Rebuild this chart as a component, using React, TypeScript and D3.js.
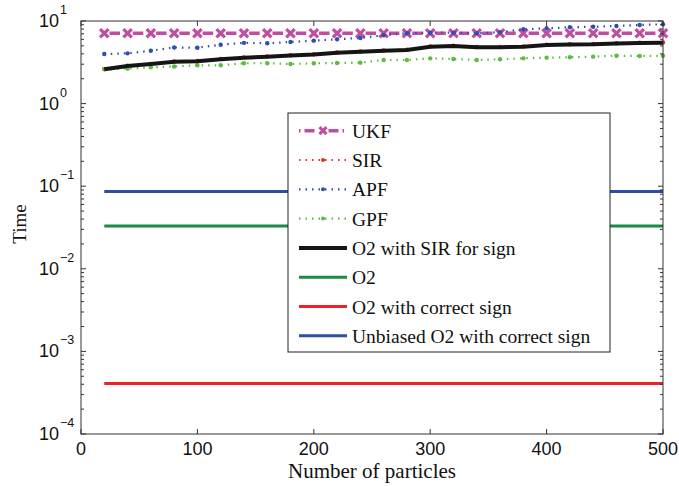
import React, { useRef, useEffect } from "react";
import * as d3 from "d3";

// number of particles
const particles = [20, 40, 60, 80, 100, 120, 140, 160, 180, 200, 220, 240, 260, 280, 300, 320, 340, 360, 380, 400, 420, 440, 460, 480, 500];

const ukf = [7.1, 7.1, 7.1, 7.1, 7.1, 7.1, 7.1, 7.1, 7.1, 7.1, 7.1, 7.1, 7.1, 7.1, 7.1, 7.1, 7.1, 7.1, 7.1, 7.1, 7.1, 7.1, 7.1, 7.1, 7.1];
const sir = [2.62, 2.87, 3.03, 3.23, 3.28, 3.47, 3.63, 3.73, 3.85, 3.96, 4.16, 4.28, 4.4, 4.49, 4.93, 5.02, 4.84, 4.84, 4.93, 5.16, 5.23, 5.26, 5.38, 5.46, 5.5];
const apf = [3.99, 4.06, 4.37, 4.78, 4.75, 5.16, 5.44, 5.37, 5.57, 5.78, 6.01, 6.23, 6.71, 7.1, 7.22, 7.22, 7.1, 7.32, 7.93, 8.16, 8.39, 8.53, 8.7, 8.95, 9.12];
const gpf = [2.6, 2.65, 2.75, 2.81, 2.91, 2.91, 3.08, 3.08, 3.01, 3.08, 3.1, 3.13, 3.37, 3.37, 3.53, 3.47, 3.37, 3.44, 3.53, 3.6, 3.64, 3.7, 3.8, 3.77, 3.8];
const o2Sir = [2.6, 2.85, 3.01, 3.21, 3.25, 3.44, 3.6, 3.7, 3.82, 3.93, 4.13, 4.25, 4.37, 4.45, 4.89, 4.98, 4.8, 4.8, 4.89, 5.12, 5.19, 5.22, 5.34, 5.42, 5.46];
const o2 = [0.033, 0.033, 0.033, 0.033, 0.033, 0.033, 0.033, 0.033, 0.033, 0.033, 0.033, 0.033, 0.033, 0.033, 0.033, 0.033, 0.033, 0.033, 0.033, 0.033, 0.033, 0.033, 0.033, 0.033, 0.033];
const o2Correct = [0.00041, 0.00041, 0.00041, 0.00041, 0.00041, 0.00041, 0.00041, 0.00041, 0.00041, 0.00041, 0.00041, 0.00041, 0.00041, 0.00041, 0.00041, 0.00041, 0.00041, 0.00041, 0.00041, 0.00041, 0.00041, 0.00041, 0.00041, 0.00041, 0.00041];
const unbiased = [0.086, 0.086, 0.086, 0.086, 0.086, 0.086, 0.086, 0.086, 0.086, 0.086, 0.086, 0.086, 0.086, 0.086, 0.086, 0.086, 0.086, 0.086, 0.086, 0.086, 0.086, 0.086, 0.086, 0.086, 0.086];

const xTicks = [0, 100, 200, 300, 400, 500];
const yExponents = [1, 0, -1, -2, -3, -4];

const seriesNames = ["UKF", "SIR", "APF", "GPF", "O2 with SIR for sign", "O2", "O2 with correct sign", "Unbiased O2 with correct sign"];

const SERIF = "'Liberation Serif', 'Times New Roman', serif";
const SANS = "'Liberation Sans', Arial, sans-serif";

const App = () => {
  const svgRef = useRef(null);

  useEffect(() => {
    const width = 679;
    const height = 486;
    const margin = { top: 21, right: 16, bottom: 52, left: 81 };

    const svg = d3.select(svgRef.current).attr("width", width).attr("height", height);
    svg.selectAll("*").remove();

    const x = d3.scaleLinear().domain([0, 500]).range([margin.left, width - margin.right]);
    const y = d3.scaleLog().domain([1e-4, 10]).range([height - margin.bottom, margin.top]);

    const styles = [
      { values: ukf, color: "#bf4da2", width: 3.5, dash: "ukf", marker: "x" },
      { values: sir, color: "#ee2a2a", width: 2.2, dash: "1.5,5", marker: "dot" },
      { values: apf, color: "#2f4fad", width: 2.2, dash: "1.5,5", marker: "dot" },
      { values: gpf, color: "#5dbb3f", width: 2.2, dash: "1.5,5", marker: "dot" },
      { values: o2Sir, color: "#151515", width: 4, dash: null, marker: null },
      { values: o2, color: "#1b8a45", width: 3, dash: null, marker: null },
      { values: o2Correct, color: "#ec2229", width: 3, dash: null, marker: null },
      { values: unbiased, color: "#2e4ea6", width: 3, dash: null, marker: null },
    ];

    const period = x(particles[1]) - x(particles[0]);
    const ukfDash = `${period * 0.45},${period * 0.55}`;
    const ukfOffset = period * 0.775;

    const line = d3
      .line<number>()
      .x((_, i) => x(particles[i]))
      .y((d) => y(d));

    const drawCross = (g, cx, cy, color, s) => {
      g.append("path")
        .attr("d", `M${cx - s},${cy - s}L${cx + s},${cy + s}M${cx - s},${cy + s}L${cx + s},${cy - s}`)
        .attr("stroke", color)
        .attr("stroke-width", 3.2)
        .attr("fill", "none");
    };

    const plot = svg.append("g");
    styles.forEach((s) => {
      const p = plot
        .append("path")
        .attr("d", line(s.values))
        .attr("fill", "none")
        .attr("stroke", s.color)
        .attr("stroke-width", s.width);
      if (s.dash === "ukf") p.attr("stroke-dasharray", ukfDash).attr("stroke-dashoffset", ukfOffset);
      else if (s.dash) p.attr("stroke-dasharray", s.dash);
      if (s.marker === "x") {
        s.values.forEach((v, i) => drawCross(plot, x(particles[i]), y(v), s.color, 4.2));
      } else if (s.marker === "dot") {
        plot
          .selectAll(null)
          .data(s.values)
          .enter()
          .append("circle")
          .attr("cx", (_, i) => x(particles[i]))
          .attr("cy", (d) => y(d))
          .attr("r", 2.2)
          .attr("fill", s.color);
      }
    });

    // axes box
    const [x0, x1] = x.range();
    const [yb, yt] = y.range();
    const axis = svg.append("g").attr("stroke", "#333").attr("stroke-width", 1);
    axis.append("rect").attr("x", x0).attr("y", yt).attr("width", x1 - x0).attr("height", yb - yt).attr("fill", "none");

    xTicks.forEach((t) => {
      axis.append("line").attr("x1", x(t)).attr("x2", x(t)).attr("y1", yb).attr("y2", yb - 5);
      axis.append("line").attr("x1", x(t)).attr("x2", x(t)).attr("y1", yt).attr("y2", yt + 5);
      svg
        .append("text")
        .attr("x", x(t))
        .attr("y", yb + 21)
        .attr("text-anchor", "middle")
        .attr("font-family", SANS)
        .attr("font-size", 18)
        .attr("fill", "#111")
        .text(t);
    });

    yExponents.forEach((e) => {
      const ty = y(Math.pow(10, e));
      axis.append("line").attr("x1", x0).attr("x2", x0 + 5).attr("y1", ty).attr("y2", ty);
      axis.append("line").attr("x1", x1).attr("x2", x1 - 5).attr("y1", ty).attr("y2", ty);
      if (e > -4) {
        for (let k = 2; k <= 9; k++) {
          const my = y(k * Math.pow(10, e - 1));
          axis.append("line").attr("x1", x0).attr("x2", x0 + 3).attr("y1", my).attr("y2", my);
          axis.append("line").attr("x1", x1).attr("x2", x1 - 3).attr("y1", my).attr("y2", my);
        }
      }
      const txt = svg
        .append("text")
        .attr("x", 39)
        .attr("y", ty + 6)
        .attr("font-family", SANS)
        .attr("font-size", 18)
        .attr("fill", "#111");
      txt.append("tspan").text("10");
      txt
        .append("tspan")
        .attr("dy", -13)
        .attr("dx", 1)
        .attr("font-size", 12.5)
        .text(e < 0 ? `\u2212${-e}` : `${e}`);
    });

    svg
      .append("text")
      .attr("x", (x0 + x1) / 2)
      .attr("y", 478)
      .attr("text-anchor", "middle")
      .attr("font-family", SERIF)
      .attr("font-size", 21)
      .attr("fill", "#111")
      .text("Number of particles");

    svg
      .append("text")
      .attr("transform", `translate(26,224) rotate(-90)`)
      .attr("text-anchor", "middle")
      .attr("font-family", SERIF)
      .attr("font-size", 19)
      .attr("fill", "#111")
      .text("Time");

    // legend
    const lg = svg.append("g");
    const lx = 288;
    const ly = 113;
    lg.append("rect")
      .attr("x", lx)
      .attr("y", ly)
      .attr("width", 322)
      .attr("height", 239)
      .attr("fill", "#fff")
      .attr("stroke", "#222")
      .attr("stroke-width", 1);
    seriesNames.forEach((name, i) => {
      const s = styles[i];
      const cy = 130.7 + i * 29.3;
      const ln = lg
        .append("line")
        .attr("x1", 299)
        .attr("x2", 347)
        .attr("y1", cy)
        .attr("y2", cy)
        .attr("stroke", s.color)
        .attr("stroke-width", s.width);
      if (s.dash === "ukf") ln.attr("stroke-dasharray", "1.5,4,10,14,10,4");
      else if (s.dash) ln.attr("stroke-dasharray", s.dash);
      if (s.marker === "x") drawCross(lg, 323, cy, s.color, 3.5);
      else if (s.marker === "dot") lg.append("circle").attr("cx", 323).attr("cy", cy).attr("r", 2).attr("fill", s.color);
      lg.append("text")
        .attr("x", 352)
        .attr("y", cy + 7)
        .attr("font-family", SERIF)
        .attr("font-size", 19.5)
        .attr("fill", "#111")
        .text(name);
    });
  }, []);

  return <svg ref={svgRef} style={{ position: "absolute", left: 0, top: 0 }}></svg>;
};

export default App;
